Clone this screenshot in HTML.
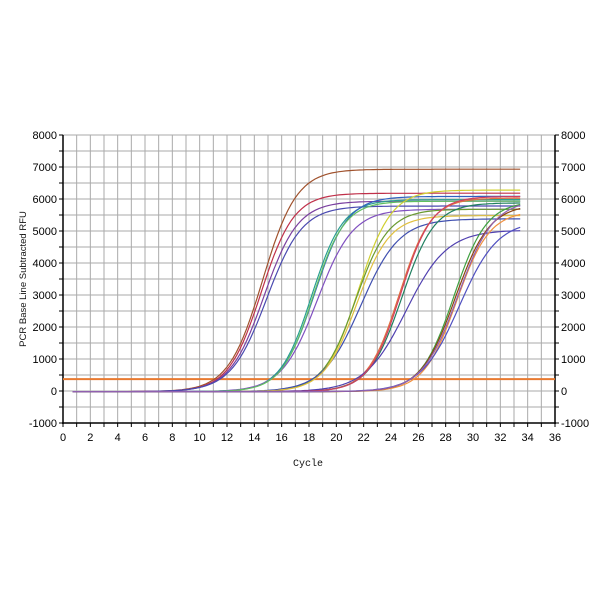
<!DOCTYPE html>
<html><head><style>
body{margin:0;background:#fff;width:600px;height:600px;overflow:hidden}
svg{font-family:"Liberation Sans",sans-serif}
</style></head><body>
<svg id="s" width="600" height="600" xmlns="http://www.w3.org/2000/svg">
<g id="grid"></g>
<g id="curves"></g>
<g font-size="11" fill="#111" id="labels">
<text x="308" y="466" text-anchor="middle" font-family="Liberation Mono,monospace" font-size="10">Cycle</text>
<text transform="translate(26,279) rotate(-90)" text-anchor="middle" font-size="9.5">PCR Base Line Subtracted RFU</text>
</g>
</svg>
<script>
var X0=63,X1=555,Y0=391,YU=0.032;
function px(c){return X0+c*(X1-X0)/36}
function py(v){return Y0-v*YU}
var g=document.getElementById('grid'),h='';
for(var c=0;c<=36;c++){h+='<line x1="'+px(c)+'" x2="'+px(c)+'" y1="135" y2="423" stroke="#aaa" stroke-width="1"/>';}
for(var v=-1000;v<=8000;v+=500){h+='<line x1="63" x2="555" y1="'+py(v)+'" y2="'+py(v)+'" stroke="#aaa" stroke-width="1"/>';
 h+='<line x1="59" x2="63" y1="'+py(v)+'" y2="'+py(v)+'" stroke="#000"/><line x1="555" x2="559" y1="'+py(v)+'" y2="'+py(v)+'" stroke="#000"/>';}
h+='<line x1="63" x2="63" y1="135" y2="424" stroke="#000" stroke-width="1.5"/><line x1="555" x2="555" y1="135" y2="424" stroke="#000" stroke-width="1.5"/><line x1="62" x2="556" y1="423" y2="423" stroke="#000" stroke-width="1.5"/>';
for(var c=0;c<=36;c++)h+='<line x1="'+px(c)+'" x2="'+px(c)+'" y1="423" y2="427" stroke="#000"/>';
for(var v=-1000;v<=8000;v+=1000){h+='<text x="57" y="'+(py(v)+4)+'" text-anchor="end" font-size="11">'+v+'</text><text x="561" y="'+(py(v)+4)+'" font-size="11">'+v+'</text>';}
for(var c=0;c<=36;c+=2)h+='<text x="'+px(c)+'" y="441" text-anchor="middle" font-size="11">'+c+'</text>';
g.innerHTML=h;
var cs=[
['#a0522d',6950,14.6,1.25],['#c0304a',6200,14.5,1.2],['#7a3fa0',5950,14.7,1.25],['#4a4ab0',5800,14.9,1.3],
['#2aa090',6000,18.2,1.15],['#3060c0',6100,18.4,1.2],['#8050c0',5700,18.6,1.3],['#60c060',5950,18.3,1.15],
['#d0d030',6300,21.6,1.2],['#6a9a30',5700,21.4,1.2],['#4050b0',5400,21.8,1.4],['#e0c040',5500,21.5,1.2],
['#e07040',6050,24.6,1.15],['#208060',5900,24.8,1.2],['#5040b0',5050,25.1,1.5],['#d04060',6100,24.7,1.15],
['#40a040',5950,28.6,1.2],['#f09040',5650,28.8,1.2],['#8b4513',5850,28.7,1.25],['#5050c0',5350,29.0,1.4],['#9060b0',6000,28.9,1.3]];
var out='<line x1="63" x2="555" y1="'+py(370)+'" y2="'+py(370)+'" stroke="#e87a30" stroke-width="2"/>';
cs.forEach(function(k){var d='';for(var c=0.7;c<=33.51;c+=0.25){var v=k[1]/(1+Math.exp(-(c-k[2])/k[3]))-20;d+=(d?'L':'M')+px(c).toFixed(1)+','+py(v).toFixed(1);}
out+='<path d="'+d+'" fill="none" stroke="'+k[0]+'" stroke-width="1.2"/>';});
document.getElementById('curves').innerHTML=out;
</script>
</body></html>
